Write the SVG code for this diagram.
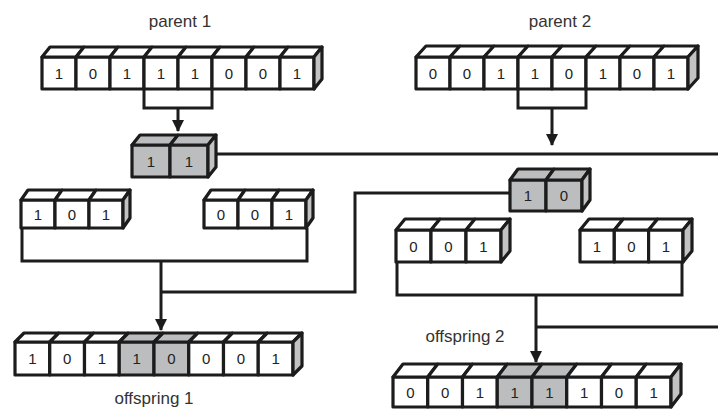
<svg xmlns="http://www.w3.org/2000/svg" width="718" height="409" viewBox="0 0 718 409">
<style>
  .lbl { font-family: "Liberation Sans", Arial, sans-serif; font-size: 17px; fill: #333; text-anchor: middle; }
  .bit { font-family: "Liberation Sans", Arial, sans-serif; font-size: 15px; fill: #222; text-anchor: middle; }
  .w { fill: #fff; stroke: #1c1c1c; stroke-width: 3.2; stroke-linejoin: round; }
  .g { fill: #bcbdbe; stroke: #1c1c1c; stroke-width: 3.2; stroke-linejoin: round; }
  .side { fill: #c3c3c3; stroke: #1c1c1c; stroke-width: 3.2; stroke-linejoin: round; }
  .wire { fill: none; stroke: #1c1c1c; stroke-width: 3; }
</style>
<defs>
  <marker id="arrow" viewBox="0 0 12 12" refX="11" refY="6" markerWidth="12" markerHeight="12" markerUnits="userSpaceOnUse" orient="auto">
    <path d="M0,0 L12,6 L0,12 z" fill="#1c1c1c"/>
  </marker>
</defs>
<rect width="718" height="409" fill="#fff"/>

<!-- labels -->
<text class="lbl" x="180" y="27">parent 1</text>
<text class="lbl" x="560" y="27">parent 2</text>
<text class="lbl" x="465" y="342">offspring 2</text>
<text class="lbl" x="154" y="404">offspring 1</text>

<!-- connectors -->
<g id="connectors">
  <path class="wire" d="M144,89 V108 H212 V89"/>
  <path class="wire" d="M178,108 V131" marker-end="url(#arrow)"/>
  <path class="wire" d="M518,88 V108 H586 V88"/>
  <path class="wire" d="M552,108 V145" marker-end="url(#arrow)"/>
  <path class="wire" d="M214,154 H718"/>
  <path class="wire" d="M510,193 H355 V292 H161"/>
  <path class="wire" d="M22,228 V261 H307 V228"/>
  <path class="wire" d="M161,261 V330" marker-end="url(#arrow)"/>
  <path class="wire" d="M397,262 V295 H682 V262"/>
  <path class="wire" d="M536,295 V362" marker-end="url(#arrow)"/>
  <path class="wire" d="M718,327 H536"/>
</g>

<!-- parent 1 -->
<g id="parent1" transform="translate(42,57)">
  <rect class="w" x="0" y="0" width="34" height="32"/><path class="w" d="M0,0 l8,-10 h34 l-8,10z"/>
  <rect class="w" x="34" y="0" width="34" height="32"/><path class="w" d="M34,0 l8,-10 h34 l-8,10z"/>
  <rect class="w" x="68" y="0" width="34" height="32"/><path class="w" d="M68,0 l8,-10 h34 l-8,10z"/>
  <rect class="w" x="102" y="0" width="34" height="32"/><path class="w" d="M102,0 l8,-10 h34 l-8,10z"/>
  <rect class="w" x="136" y="0" width="34" height="32"/><path class="w" d="M136,0 l8,-10 h34 l-8,10z"/>
  <rect class="w" x="170" y="0" width="34" height="32"/><path class="w" d="M170,0 l8,-10 h34 l-8,10z"/>
  <rect class="w" x="204" y="0" width="34" height="32"/><path class="w" d="M204,0 l8,-10 h34 l-8,10z"/>
  <rect class="w" x="238" y="0" width="34" height="32"/><path class="w" d="M238,0 l8,-10 h34 l-8,10z"/>
  <path class="side" d="M272,0 l8,-10 v32 l-8,10z"/>
  <text class="bit" x="17" y="21.5">1</text><text class="bit" x="51" y="21.5">0</text>
  <text class="bit" x="85" y="21.5">1</text><text class="bit" x="119" y="21.5">1</text>
  <text class="bit" x="153" y="21.5">1</text><text class="bit" x="187" y="21.5">0</text>
  <text class="bit" x="221" y="21.5">0</text><text class="bit" x="255" y="21.5">1</text>
</g>

<!-- parent 2 -->
<g id="parent2" transform="translate(416,57)">
  <rect class="w" x="0" y="0" width="34" height="32"/><path class="w" d="M0,0 l10,-11 h34 l-10,11z"/>
  <rect class="w" x="34" y="0" width="34" height="32"/><path class="w" d="M34,0 l10,-11 h34 l-10,11z"/>
  <rect class="w" x="68" y="0" width="34" height="32"/><path class="w" d="M68,0 l10,-11 h34 l-10,11z"/>
  <rect class="w" x="102" y="0" width="34" height="32"/><path class="w" d="M102,0 l10,-11 h34 l-10,11z"/>
  <rect class="w" x="136" y="0" width="34" height="32"/><path class="w" d="M136,0 l10,-11 h34 l-10,11z"/>
  <rect class="w" x="170" y="0" width="34" height="32"/><path class="w" d="M170,0 l10,-11 h34 l-10,11z"/>
  <rect class="w" x="204" y="0" width="34" height="32"/><path class="w" d="M204,0 l10,-11 h34 l-10,11z"/>
  <rect class="w" x="238" y="0" width="34" height="32"/><path class="w" d="M238,0 l10,-11 h34 l-10,11z"/>
  <path class="side" d="M272,0 l10,-11 v32 l-10,11z"/>
  <text class="bit" x="17" y="21.5">0</text><text class="bit" x="51" y="21.5">0</text>
  <text class="bit" x="85" y="21.5">1</text><text class="bit" x="119" y="21.5">1</text>
  <text class="bit" x="153" y="21.5">0</text><text class="bit" x="187" y="21.5">1</text>
  <text class="bit" x="221" y="21.5">0</text><text class="bit" x="255" y="21.5">1</text>
</g>

<!-- segment taken from parent 1 -->
<g id="segment1" transform="translate(132,145)">
  <rect class="g" x="0" y="0" width="38" height="32"/><path class="g" d="M0,0 l8,-10 h38 l-8,10z"/>
  <rect class="g" x="38" y="0" width="38" height="32"/><path class="g" d="M38,0 l8,-10 h38 l-8,10z"/>
  <path class="side" d="M76,0 l8,-10 v32 l-8,10z"/>
  <text class="bit" x="19" y="21.5">1</text><text class="bit" x="57" y="21.5">1</text>
</g>

<!-- segment taken from parent 2 -->
<g id="segment2" transform="translate(510,180)">
  <rect class="g" x="0" y="0" width="36" height="31"/><path class="g" d="M0,0 l8,-11 h36 l-8,11z"/>
  <rect class="g" x="36" y="0" width="36" height="31"/><path class="g" d="M36,0 l8,-11 h36 l-8,11z"/>
  <path class="side" d="M72,0 l8,-11 v31 l-8,11z"/>
  <text class="bit" x="18" y="21">1</text><text class="bit" x="54" y="21">0</text>
</g>

<!-- remainder of parent 1 -->
<g id="head1" transform="translate(21,200)">
  <rect class="w" x="0" y="0" width="34" height="28"/><path class="w" d="M0,0 l7,-10 h34 l-7,10z"/>
  <rect class="w" x="34" y="0" width="34" height="28"/><path class="w" d="M34,0 l7,-10 h34 l-7,10z"/>
  <rect class="w" x="68" y="0" width="34" height="28"/><path class="w" d="M68,0 l7,-10 h34 l-7,10z"/>
  <path class="side" d="M102,0 l7,-10 v28 l-7,10z"/>
  <text class="bit" x="17" y="19.5">1</text><text class="bit" x="51" y="19.5">0</text><text class="bit" x="85" y="19.5">1</text>
</g>
<g id="tail1" transform="translate(204,200)">
  <rect class="w" x="0" y="0" width="34" height="28"/><path class="w" d="M0,0 l7,-10 h34 l-7,10z"/>
  <rect class="w" x="34" y="0" width="34" height="28"/><path class="w" d="M34,0 l7,-10 h34 l-7,10z"/>
  <rect class="w" x="68" y="0" width="34" height="28"/><path class="w" d="M68,0 l7,-10 h34 l-7,10z"/>
  <path class="side" d="M102,0 l7,-10 v28 l-7,10z"/>
  <text class="bit" x="17" y="19.5">0</text><text class="bit" x="51" y="19.5">0</text><text class="bit" x="85" y="19.5">1</text>
</g>

<!-- remainder of parent 2 -->
<g id="head2" transform="translate(396,230)">
  <rect class="w" x="0" y="0" width="35" height="32"/><path class="w" d="M0,0 l9,-11 h35 l-9,11z"/>
  <rect class="w" x="35" y="0" width="35" height="32"/><path class="w" d="M35,0 l9,-11 h35 l-9,11z"/>
  <rect class="w" x="70" y="0" width="35" height="32"/><path class="w" d="M70,0 l9,-11 h35 l-9,11z"/>
  <path class="side" d="M105,0 l9,-11 v32 l-9,11z"/>
  <text class="bit" x="17.5" y="21.5">0</text><text class="bit" x="52.5" y="21.5">0</text><text class="bit" x="87.5" y="21.5">1</text>
</g>
<g id="tail2" transform="translate(580,230)">
  <rect class="w" x="0" y="0" width="34.3" height="32"/><path class="w" d="M0,0 l9,-11 h34.3 l-9,11z"/>
  <rect class="w" x="34.3" y="0" width="34.3" height="32"/><path class="w" d="M34.3,0 l9,-11 h34.3 l-9,11z"/>
  <rect class="w" x="68.6" y="0" width="34.4" height="32"/><path class="w" d="M68.6,0 l9,-11 h34.4 l-9,11z"/>
  <path class="side" d="M103,0 l9,-11 v32 l-9,11z"/>
  <text class="bit" x="17" y="21.5">1</text><text class="bit" x="51.5" y="21.5">0</text><text class="bit" x="86" y="21.5">1</text>
</g>

<!-- offspring 1 -->
<g id="offspring1" transform="translate(15,342)">
  <rect class="w" x="0" y="0" width="34.75" height="33"/><path class="w" d="M0,0 l9,-9 h34.75 l-9,9z"/>
  <rect class="w" x="34.75" y="0" width="34.75" height="33"/><path class="w" d="M34.75,0 l9,-9 h34.75 l-9,9z"/>
  <rect class="w" x="69.5" y="0" width="34.75" height="33"/><path class="w" d="M69.5,0 l9,-9 h34.75 l-9,9z"/>
  <rect class="g" x="104.25" y="0" width="34.75" height="33"/><path class="g" d="M104.25,0 l9,-9 h34.75 l-9,9z"/>
  <rect class="g" x="139" y="0" width="34.75" height="33"/><path class="g" d="M139,0 l9,-9 h34.75 l-9,9z"/>
  <rect class="w" x="173.75" y="0" width="34.75" height="33"/><path class="w" d="M173.75,0 l9,-9 h34.75 l-9,9z"/>
  <rect class="w" x="208.5" y="0" width="34.75" height="33"/><path class="w" d="M208.5,0 l9,-9 h34.75 l-9,9z"/>
  <rect class="w" x="243.25" y="0" width="34.75" height="33"/><path class="w" d="M243.25,0 l9,-9 h34.75 l-9,9z"/>
  <path class="side" d="M278,0 l9,-9 v33 l-9,9z"/>
  <text class="bit" x="17.4" y="22">1</text><text class="bit" x="52.1" y="22">0</text>
  <text class="bit" x="86.9" y="22">1</text><text class="bit" x="121.6" y="22">1</text>
  <text class="bit" x="156.4" y="22">0</text><text class="bit" x="191.1" y="22">0</text>
  <text class="bit" x="225.9" y="22">0</text><text class="bit" x="260.6" y="22">1</text>
</g>

<!-- offspring 2 -->
<g id="offspring2" transform="translate(393,377)">
  <rect class="w" x="0" y="0" width="34.75" height="30"/><path class="w" d="M0,0 l10,-13 h34.75 l-10,13z"/>
  <rect class="w" x="34.75" y="0" width="34.75" height="30"/><path class="w" d="M34.75,0 l10,-13 h34.75 l-10,13z"/>
  <rect class="w" x="69.5" y="0" width="34.75" height="30"/><path class="w" d="M69.5,0 l10,-13 h34.75 l-10,13z"/>
  <rect class="g" x="104.25" y="0" width="34.75" height="30"/><path class="g" d="M104.25,0 l10,-13 h34.75 l-10,13z"/>
  <rect class="g" x="139" y="0" width="34.75" height="30"/><path class="g" d="M139,0 l10,-13 h34.75 l-10,13z"/>
  <rect class="w" x="173.75" y="0" width="34.75" height="30"/><path class="w" d="M173.75,0 l10,-13 h34.75 l-10,13z"/>
  <rect class="w" x="208.5" y="0" width="34.75" height="30"/><path class="w" d="M208.5,0 l10,-13 h34.75 l-10,13z"/>
  <rect class="w" x="243.25" y="0" width="34.75" height="30"/><path class="w" d="M243.25,0 l10,-13 h34.75 l-10,13z"/>
  <path class="side" d="M278,0 l10,-13 v30 l-10,13z"/>
  <text class="bit" x="17.4" y="20.5">0</text><text class="bit" x="52.1" y="20.5">0</text>
  <text class="bit" x="86.9" y="20.5">1</text><text class="bit" x="121.6" y="20.5">1</text>
  <text class="bit" x="156.4" y="20.5">1</text><text class="bit" x="191.1" y="20.5">1</text>
  <text class="bit" x="225.9" y="20.5">0</text><text class="bit" x="260.6" y="20.5">1</text>
</g>
</svg>
